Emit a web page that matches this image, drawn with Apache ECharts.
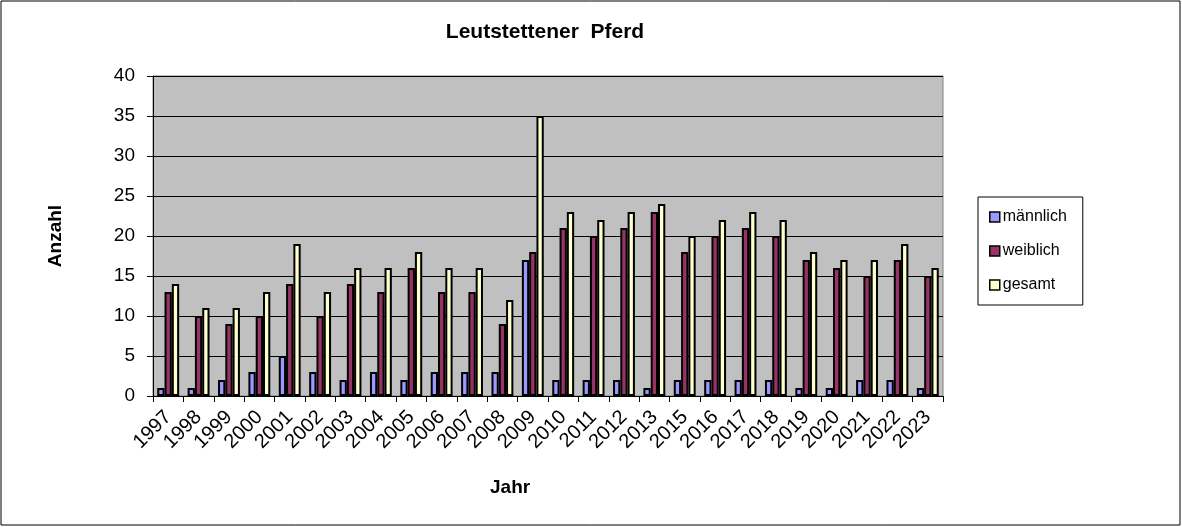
<!DOCTYPE html>
<html><head><meta charset="utf-8">
<script src="https://cdn.jsdelivr.net/npm/echarts@6/dist/echarts.min.js"></script>
<style>html,body{margin:0;padding:0;background:#fff}#c{width:1182px;height:527px;}</style>
</head><body><div id="c"></div>
<script>
const years = ['1997','1998','1999','2000','2001','2002','2003','2004','2005','2006','2007','2008','2009','2010','2011','2012','2013','2015','2016','2017','2018','2019','2020','2021','2022','2023'];
const maennlich = [1,1,2,3,5,3,2,3,2,3,3,3,17,2,2,2,1,2,2,2,2,1,1,2,2,1];
const weiblich  = [13,10,9,10,14,10,14,13,16,13,13,9,18,21,20,21,23,18,20,21,20,17,16,15,17,15];
const gesamt    = [14,11,11,13,19,13,16,16,18,16,16,12,35,23,22,23,24,20,22,23,22,18,17,17,19,16];
const yTicks = [0,5,10,15,20,25,30,35,40];

const font = 'Liberation Sans, Arial, sans-serif';
const chart = echarts.init(document.getElementById('c'), null, {renderer:'canvas'});
const barStyle = c => ({color:c, borderColor:'#000', borderWidth:2});
chart.setOption({
  animation:false,
  backgroundColor:'#fff',
  title:{text:'Leutstettener  Pferd', left:540, top:17, textAlign:'center',
    textStyle:{fontFamily:font, fontSize:21, fontWeight:'bold', color:'#000'}},
  graphic:[
    {type:'rect', shape:{x:1,y:1,width:1179,height:524}, style:{fill:null, stroke:'#000', lineWidth:1}, silent:true, z:-1},
    {type:'text', left:490, top:478, style:{text:'Jahr', fontFamily:font, fontSize:19, fontWeight:'bold', fill:'#000'}}
  ],
  grid:{left:153, right:239, top:76, bottom:131, show:true, backgroundColor:'#C0C0C0', borderColor:'#808080', borderWidth:1},
  legend:{orient:'vertical', left:978, top:197, width:104, height:107,
    borderColor:'#000', borderWidth:1, padding:[12,16,12,11], itemGap:18,
    itemWidth:10, itemHeight:10, icon:'rect',
    itemStyle:{borderColor:'#000', borderWidth:1.5},
    textStyle:{fontFamily:font, fontSize:16, color:'#000', padding:[0,0,0,-2]},
    data:['männlich','weiblich','gesamt']},
  xAxis:{type:'category', data:years,
    axisLine:{lineStyle:{color:'#000', width:1}},
    axisTick:{show:true, inside:false, length:6, alignWithLabel:false, lineStyle:{color:'#000'}},
    axisLabel:{rotate:45, fontFamily:font, fontSize:20, color:'#000', margin:18, interval:0}},
  yAxis:{type:'value', min:0, max:40, interval:5, name:'Anzahl', nameLocation:'middle', nameGap:88, nameRotate:90,
    nameTextStyle:{fontFamily:font, fontSize:19, fontWeight:'bold', color:'#000'},
    axisLine:{show:true, lineStyle:{color:'#000'}},
    axisTick:{show:true, length:6, lineStyle:{color:'#000'}},
    splitLine:{lineStyle:{color:'#000', width:1}},
    axisLabel:{fontFamily:font, fontSize:19, color:'#000', margin:18,
      formatter: v => yTicks.includes(v) ? String(v) : ''}},
  series:[
    {name:'männlich', type:'bar', data:maennlich, barGap:'0%', barCategoryGap:'28%', itemStyle:barStyle('#9999FF')},
    {name:'weiblich', type:'bar', data:weiblich, barGap:'0%', barCategoryGap:'28%', itemStyle:barStyle('#993366')},
    {name:'gesamt', type:'bar', data:gesamt, barGap:'0%', barCategoryGap:'28%', itemStyle:barStyle('#FFFFCC')}
  ]
});
</script></body></html>
